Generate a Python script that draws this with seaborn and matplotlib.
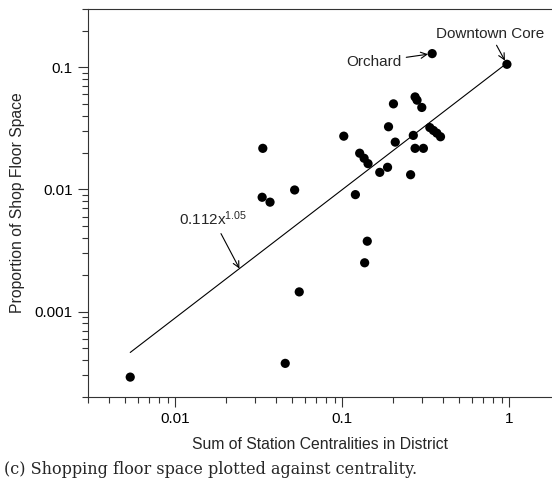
import numpy as np
import pandas as pd
import matplotlib
matplotlib.use("Agg")
import matplotlib.pyplot as plt
import matplotlib.ticker as mticker
import seaborn as sns

# Sum of station centralities per district and share of shop floor space
centrality = [0.00537, 0.0455, 0.0552, 0.136, 0.141, 0.0334, 0.0331, 0.0369,
              0.0518, 0.102, 0.1197, 0.127, 0.135, 0.1425, 0.1675, 0.1865,
              0.189, 0.2074, 0.2023, 0.2563, 0.266, 0.2726, 0.3057, 0.2726,
              0.280, 0.299, 0.334, 0.351, 0.368, 0.387, 0.345, 0.967]
floor_share = [0.000291, 0.000377, 0.00145, 0.00251, 0.00377, 0.0217, 0.00863,
               0.00787, 0.0099, 0.0273, 0.00907, 0.0198, 0.0180, 0.01627,
               0.0138, 0.01518, 0.0326, 0.0244, 0.0502, 0.0132, 0.0277,
               0.0217, 0.0217, 0.0572, 0.0538, 0.0469, 0.0321, 0.0304,
               0.0289, 0.0270, 0.1294, 0.1058]

# Power-law fit y = a * x^b
fit_a = 0.112
fit_b = 1.05

x_ticks = [0.01, 0.1, 1]
x_tick_labels = ["0.01", "0.1", "1"]
y_ticks = [0.001, 0.01, 0.1]
y_tick_labels = ["0.001", "0.01", "0.1"]

df = pd.DataFrame({"centrality": centrality, "floor_share": floor_share})

sns.set_style("ticks")
plt.rcParams["font.family"] = ["Liberation Sans", "DejaVu Sans"]
plt.rcParams["mathtext.default"] = "regular"

fig = plt.figure(figsize=(5.52, 4.87), dpi=100)
ax = fig.add_axes([88 / 552, 1 - 397 / 487, 1 - 88 / 552, (397 - 9) / 487])

# fitted power law across the observed range
fit_x = np.geomspace(min(centrality), max(centrality), 50)
fit_df = pd.DataFrame({"x": fit_x, "y": fit_a * fit_x ** fit_b})
sns.lineplot(data=fit_df, x="x", y="y", color="black", linewidth=0.8, ax=ax)

sns.scatterplot(data=df, x="centrality", y="floor_share", s=44,
                color="black", edgecolor="none", linewidth=0, ax=ax, zorder=3)

ax.set_xscale("log")
ax.set_yscale("log")
ax.set_xlim(0.003, 1.8)
ax.set_ylim(0.0002, 0.3)

ax.xaxis.set_major_locator(mticker.FixedLocator(x_ticks))
ax.xaxis.set_major_formatter(mticker.FixedFormatter(x_tick_labels))
ax.yaxis.set_major_locator(mticker.FixedLocator(y_ticks))
ax.yaxis.set_major_formatter(mticker.FixedFormatter(y_tick_labels))
ax.xaxis.set_minor_locator(mticker.LogLocator(base=10, subs=np.arange(2, 10)))
ax.yaxis.set_minor_locator(mticker.LogLocator(base=10, subs=np.arange(2, 10)))
ax.xaxis.set_minor_formatter(mticker.NullFormatter())
ax.yaxis.set_minor_formatter(mticker.NullFormatter())

ax.tick_params(axis="both", which="major", direction="out", length=7,
               width=0.8, color="#333333", labelsize=11, labelcolor="black", pad=4)
ax.tick_params(axis="both", which="minor", direction="out", length=4,
               width=0.8, color="#333333")

ax.spines["right"].set_visible(False)
for side in ("left", "top", "bottom"):
    ax.spines[side].set_color("#333333")
    ax.spines[side].set_linewidth(0.8)

ax.set_xlabel("Sum of Station Centralities in District", fontsize=11.3, labelpad=8)
ax.set_ylabel("Proportion of Shop Floor Space", fontsize=11.3, labelpad=7)

arrow = dict(arrowstyle="->", color="black", lw=0.8, shrinkA=1, shrinkB=3)
ax.annotate("Orchard", xy=(centrality[30], floor_share[30]),
            xytext=(-22, -6), textcoords="offset points",
            ha="right", va="center", fontsize=11, arrowprops=arrow)
ax.annotate("Downtown Core", xy=(centrality[31], floor_share[31]),
            xytext=(-12, 22), textcoords="offset points",
            ha="center", va="center", fontsize=11, arrowprops=arrow)
lx = 0.0242
ax.annotate("0.112x$^{1.05}$", xy=(lx, fit_a * lx ** fit_b),
            xytext=(-19, 36), textcoords="offset points",
            ha="center", va="center", fontsize=11,
            arrowprops=dict(arrowstyle="->", color="black", lw=0.8,
                            shrinkA=2, shrinkB=0))

fig.text(0.008, 1 - 470 / 487, "(c) Shopping floor space plotted against centrality.",
         fontsize=11.5, family="DejaVu Serif", va="center", ha="left")

fig.savefig("out.png", dpi=100)
